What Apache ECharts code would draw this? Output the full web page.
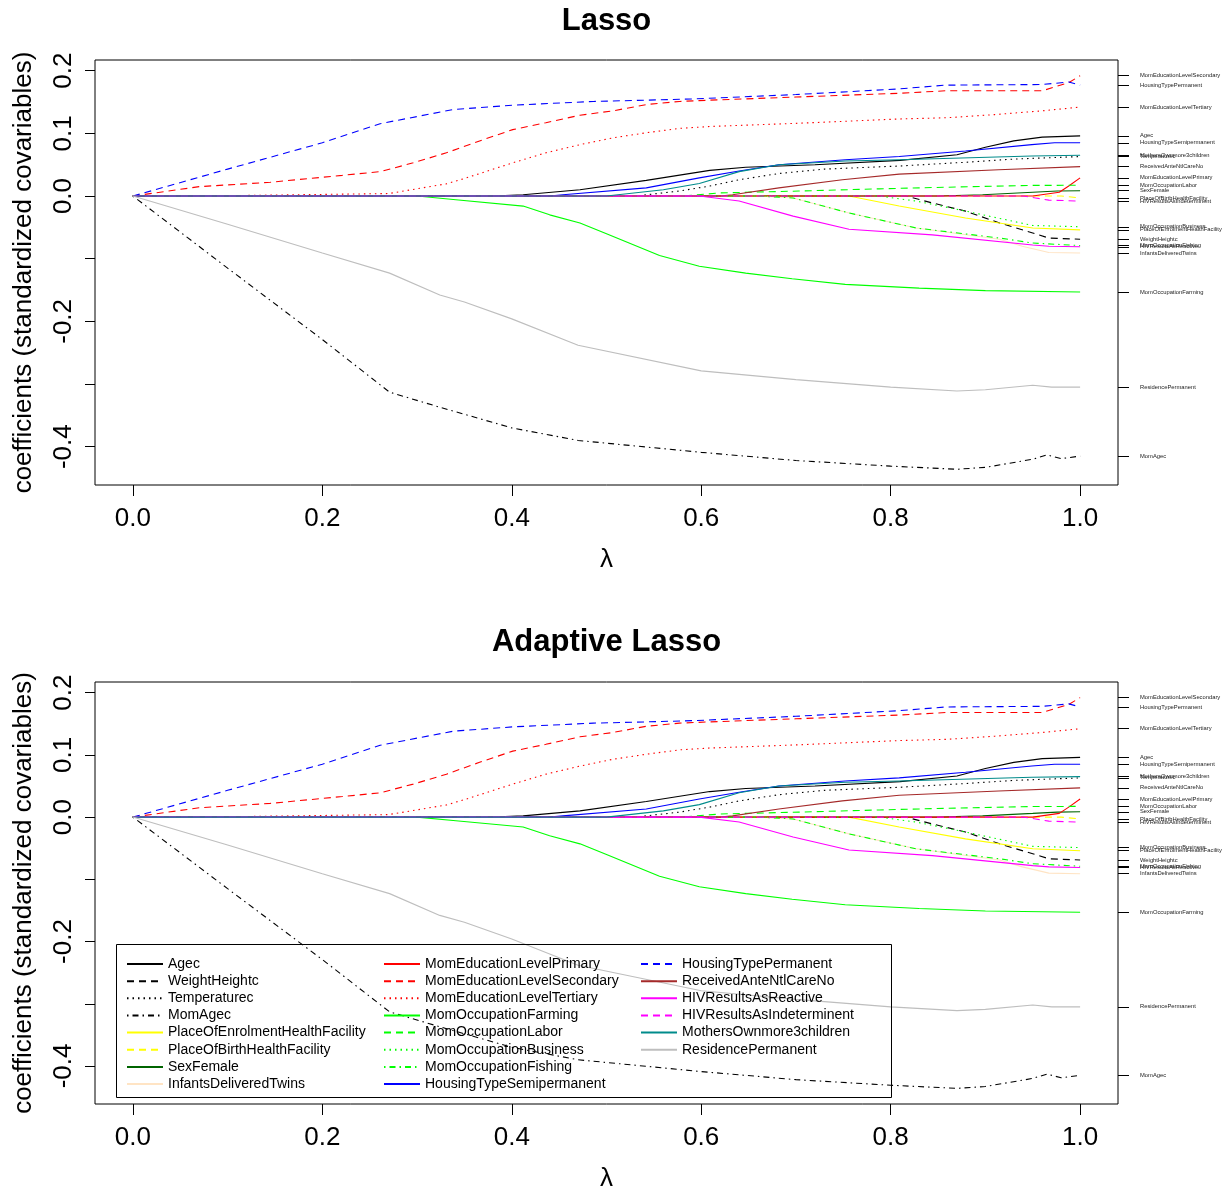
<!DOCTYPE html>
<html><head><meta charset="utf-8">
<script src="https://cdn.jsdelivr.net/npm/echarts@6/dist/echarts.min.js"></script>
<style>html,body{margin:0;padding:0;background:#fff}#c{width:1227px;height:1193px}</style>
</head><body><div id="c"></div>
<script>
// ---- data: [lambda, coefficient] pairs ----
const lambdaTicks = [0, 0.2, 0.4, 0.6, 0.8, 1.0];
const coefTicks = [-0.4, -0.3, -0.2, -0.1, 0, 0.1, 0.2];
const coefTickLabels = [-0.4, -0.2, 0, 0.1, 0.2];
const panelTitles = ['Lasso', 'Adaptive Lasso'];

const agec = [[0,0],[0.38,0],[0.412,0.002],[0.472,0.010],[0.542,0.025],[0.609,0.041],[0.647,0.046],[0.72,0.05],[0.81,0.057],[0.87,0.066],[0.9,0.078],[0.93,0.088],[0.96,0.094],[1,0.096]];
const weightHeightc = [[0,0],[0.816,0],[0.844,-0.011],[0.879,-0.024],[0.915,-0.043],[0.95,-0.059],[0.967,-0.067],[1,-0.069]];
const temperaturec = [[0,0],[0.53,0],[0.577,0.008],[0.609,0.016],[0.64,0.026],[0.682,0.036],[0.73,0.043],[0.81,0.048],[0.88,0.054],[0.93,0.059],[1,0.063]];
const momAgec = [[0,0],[0.1,-0.115],[0.2,-0.229],[0.271,-0.313],[0.324,-0.337],[0.4,-0.370],[0.47,-0.390],[0.6,-0.409],[0.7,-0.422],[0.8,-0.431],[0.87,-0.436],[0.9,-0.433],[0.95,-0.420],[0.965,-0.413],[0.98,-0.419],[1,-0.415]];
const placeOfEnrolmentHealthFacility = [[0,0],[0.756,0],[0.809,-0.016],[0.879,-0.035],[0.95,-0.051],[1,-0.054]];
const placeOfBirthHealthFacility = [[0,0],[0.98,0],[1,-0.003]];
const sexFemale = [[0,0],[0.85,0],[0.897,0.002],[0.95,0.006],[0.976,0.008],[1,0.0085]];
const infantsDeliveredTwins = [[0,0],[0.66,0],[0.697,-0.003],[0.756,-0.027],[0.827,-0.051],[0.915,-0.069],[0.939,-0.080],[0.967,-0.090],[1,-0.091]];
const momEducationLevelPrimary = [[0,0],[0.95,0],[0.978,0.006],[0.988,0.016],[1,0.029]];
const momEducationLevelSecondary = [[0,0],[0.07,0.015],[0.145,0.022],[0.221,0.033],[0.261,0.039],[0.296,0.053],[0.331,0.069],[0.366,0.088],[0.401,0.106],[0.436,0.117],[0.472,0.129],[0.507,0.136],[0.542,0.146],[0.577,0.151],[0.609,0.153],[0.7,0.158],[0.809,0.164],[0.858,0.168],[0.96,0.168],[0.988,0.181],[1,0.192]];
const momEducationLevelTertiary = [[0,0],[0.07,0],[0.27,0.004],[0.331,0.0195],[0.352,0.029],[0.401,0.053],[0.436,0.069],[0.472,0.082],[0.507,0.093],[0.542,0.101],[0.577,0.108],[0.609,0.111],[0.7,0.116],[0.809,0.123],[0.86,0.125],[0.91,0.130],[0.96,0.136],[1,0.142]];
const momOccupationFarming = [[0,0],[0.3,0],[0.341,-0.006],[0.412,-0.016],[0.44,-0.030],[0.472,-0.043],[0.5,-0.06],[0.556,-0.095],[0.598,-0.112],[0.647,-0.123],[0.696,-0.132],[0.752,-0.141],[0.83,-0.147],[0.9,-0.151],[1,-0.153]];
const momOccupationLabor = [[0,0],[0.58,0],[0.62,0.005],[0.703,0.008],[0.788,0.0115],[0.844,0.0136],[0.949,0.017],[1,0.0172]];
const momOccupationBusiness = [[0,0],[0.788,0],[0.827,-0.008],[0.879,-0.024],[0.95,-0.047],[1,-0.049]];
const momOccupationFishing = [[0,0],[0.66,0],[0.697,-0.003],[0.756,-0.027],[0.827,-0.051],[0.915,-0.067],[0.95,-0.075],[1,-0.079]];
const housingTypeSemipermanent = [[0,0],[0.44,0],[0.454,0.002],[0.542,0.013],[0.598,0.029],[0.64,0.040],[0.682,0.050],[0.752,0.058],[0.809,0.063],[0.879,0.072],[0.949,0.082],[0.973,0.085],[1,0.085]];
const housingTypePermanent = [[0,0],[0.1,0.043],[0.2,0.085],[0.261,0.1155],[0.338,0.138],[0.401,0.145],[0.486,0.151],[0.542,0.153],[0.591,0.155],[0.7,0.162],[0.809,0.171],[0.858,0.177],[0.96,0.178],[0.988,0.182],[1,0.177]];
const receivedAnteNtlCareNo = [[0,0],[0.62,0],[0.633,0.002],[0.682,0.013],[0.749,0.026],[0.809,0.035],[0.914,0.042],[1,0.047]];
const hivResultsAsReactive = [[0,0],[0.598,0],[0.64,-0.008],[0.697,-0.032],[0.756,-0.053],[0.844,-0.062],[0.95,-0.078],[0.967,-0.080],[1,-0.081]];
const hivResultsAsIndeterminent = [[0,0],[0.94,0],[0.953,-0.003],[0.967,-0.0065],[1,-0.008]];
const mothersOwnmore3children = [[0,0],[0.5,0],[0.56,0.010],[0.598,0.020],[0.64,0.039],[0.682,0.050],[0.752,0.056],[0.809,0.058],[0.949,0.064],[1,0.065]];
const residencePermanent = [[0,0],[0.1,-0.045],[0.2,-0.091],[0.271,-0.123],[0.324,-0.158],[0.35,-0.169],[0.4,-0.196],[0.47,-0.238],[0.6,-0.279],[0.7,-0.293],[0.8,-0.305],[0.87,-0.311],[0.9,-0.309],[0.95,-0.302],[0.97,-0.305],[1,-0.305]];

const seriesNames = ['Agec','WeightHeightc','Temperaturec','MomAgec','PlaceOfEnrolmentHealthFacility','PlaceOfBirthHealthFacility','SexFemale','InfantsDeliveredTwins','MomEducationLevelPrimary','MomEducationLevelSecondary','MomEducationLevelTertiary','MomOccupationFarming','MomOccupationLabor','MomOccupationBusiness','MomOccupationFishing','HousingTypeSemipermanent','HousingTypePermanent','ReceivedAnteNtlCareNo','HIVResultsAsReactive','HIVResultsAsIndeterminent','MothersOwnmore3children','ResidencePermanent'];
const seriesData = [agec,weightHeightc,temperaturec,momAgec,placeOfEnrolmentHealthFacility,placeOfBirthHealthFacility,sexFemale,infantsDeliveredTwins,momEducationLevelPrimary,momEducationLevelSecondary,momEducationLevelTertiary,momOccupationFarming,momOccupationLabor,momOccupationBusiness,momOccupationFishing,housingTypeSemipermanent,housingTypePermanent,receivedAnteNtlCareNo,hivResultsAsReactive,hivResultsAsIndeterminent,mothersOwnmore3children,residencePermanent];

// ---- styles ----
const DASH = [7,5], DOT = [1.5,4], DOTDASH = [1.5,4,6,4];
const styles = [
  ['#000000','solid'],['#000000',DASH],['#000000',DOT],['#000000',DOTDASH],
  ['#FFFF00','solid'],['#FFFF00',DASH],['#006400','solid'],['#FFE4C4','solid'],
  ['#FF0000','solid'],['#FF0000',DASH],['#FF0000',DOT],
  ['#00FF00','solid'],['#00FF00',DASH],['#00FF00',DOT],['#00FF00',DOTDASH],
  ['#0000FF','solid'],['#0000FF',DASH],['#A52A2A','solid'],
  ['#FF00FF','solid'],['#FF00FF',DASH],['#008B8B','solid'],['#BEBEBE','solid']
];

const FONT = '"Liberation Sans", Arial, Helvetica, sans-serif';
const allVals = seriesData.flat().map(p => p[1]);
const dmin = Math.min(...allVals), dmax = Math.max(...allVals);
const pad = (dmax - dmin) * 0.04;
const yMin = dmin - pad, yMax = dmax + pad;

const endVals = seriesData.map(d => d[d.length - 1][1]);
const endMap = new Map();
endVals.forEach((v, i) => endMap.set(v, seriesNames[i]));

const grids = [{left:95, top:60, width:1023, height:425}, {left:95, top:682, width:1023, height:425}];

const xAxes = [], yAxes = [], series = [];
grids.forEach((g, gi) => {
  xAxes.push({
    type:'value', gridIndex:gi, min:-0.04, max:1.04,
    axisLine:{show:false, onZero:false}, splitLine:{show:false},
    axisTick:{show:true, customValues:lambdaTicks, length:11, lineStyle:{color:'#000', width:1}},
    axisLabel:{customValues:lambdaTicks, formatter:v => v.toFixed(1), fontSize:26, color:'#000', fontFamily:FONT, margin:21},
    name:'λ', nameLocation:'middle', nameGap:62,
    nameTextStyle:{fontSize:26, color:'#000', fontFamily:FONT}
  });
  yAxes.push({
    type:'value', gridIndex:gi, min:yMin, max:yMax,
    axisLine:{show:false, onZero:false}, splitLine:{show:false},
    axisTick:{show:true, customValues:coefTicks, length:10, lineStyle:{color:'#000', width:1}},
    axisLabel:{customValues:coefTickLabels, formatter:v => v.toFixed(1), rotate:90, fontSize:26, color:'#000', fontFamily:FONT, margin:18},
    name:'coefficients (standardized covariables)', nameLocation:'middle', nameRotate:90, nameGap:58,
    nameTextStyle:{fontSize:26, color:'#000', fontFamily:FONT}
  });
  yAxes.push({
    type:'value', gridIndex:gi, position:'right', min:yMin, max:yMax,
    axisLine:{show:false, onZero:false}, splitLine:{show:false},
    axisTick:{show:true, customValues:endVals, length:11, lineStyle:{color:'#000', width:1}},
    axisLabel:{customValues:endVals, formatter:v => endMap.get(v) || '', fontSize:5.8, color:'#222', fontFamily:FONT, margin:22}
  });
  seriesData.forEach((d, i) => {
    series.push({
      type:'line', name:seriesNames[i], xAxisIndex:gi, yAxisIndex:gi*2, data:d,
      symbol:'none', silent:true, animation:false,
      color:styles[i][0],
      lineStyle:{color:styles[i][0], type:styles[i][1], width:1.1}
    });
  });
});

const legendCols = [[0,8,126],[8,16,383],[16,22,640]];
const legends = legendCols.map(([a,b,x]) => ({
  data: seriesNames.slice(a,b), orient:'vertical', left:x, top:957, padding:0,
  itemWidth:36, itemHeight:14, itemGap:3.15, selectedMode:false,
  itemStyle:{opacity:0},
  textStyle:{fontSize:14, color:'#000', fontFamily:FONT, lineHeight:14}
}));

const chart = echarts.init(document.getElementById('c'), null, {renderer:'canvas'});
chart.setOption({
  backgroundColor:'#fff',
  animation:false,
  grid: grids.map(g => Object.assign({show:true, borderColor:'#000', borderWidth:1, backgroundColor:'transparent'}, g)),
  xAxis:xAxes, yAxis:yAxes, series:series, legend:legends,
  graphic:[
    {type:'text', x:606.5, y:21, style:{text:panelTitles[0], font:'bold 31px ' + FONT, fill:'#000', textAlign:'center', textVerticalAlign:'middle', verticalAlign:'middle'}},
    {type:'text', x:606.5, y:642, style:{text:panelTitles[1], font:'bold 31px ' + FONT, fill:'#000', textAlign:'center', textVerticalAlign:'middle', verticalAlign:'middle'}},
    {type:'rect', shape:{x:116.5, y:944.5, width:775, height:153}, style:{fill:'none', stroke:'#000', lineWidth:1}, z:100}
  ]
});
</script></body></html>
